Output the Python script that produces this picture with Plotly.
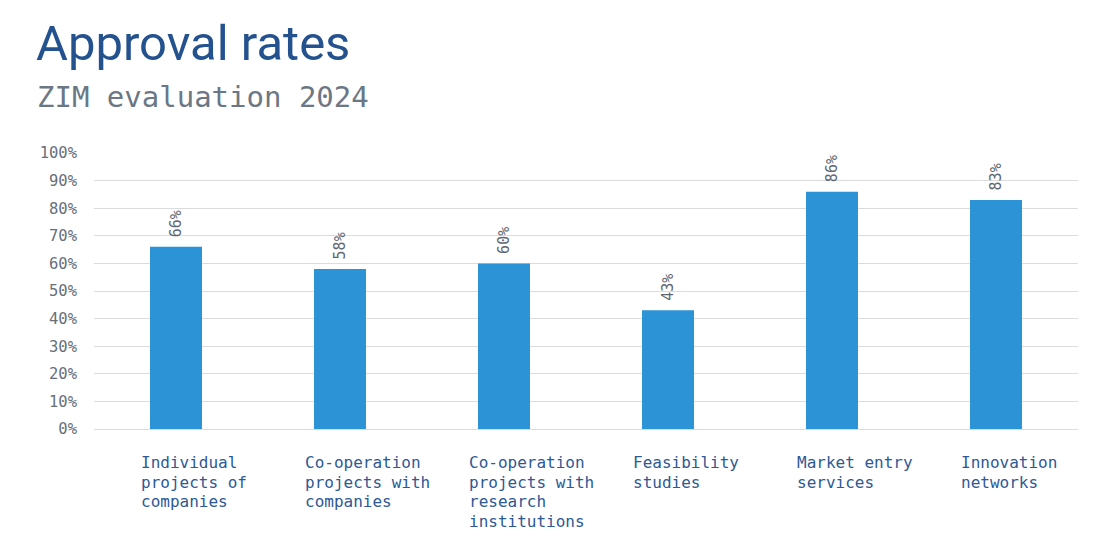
import plotly.graph_objects as go

categories = [
    "Individual<br>projects of<br>companies",
    "Co-operation<br>projects with<br>companies",
    "Co-operation<br>projects with<br>research<br>institutions",
    "Feasibility<br>studies",
    "Market entry<br>services",
    "Innovation<br>networks",
]
approval_rates = [66, 58, 60, 43, 86, 83]
y_ticks = list(range(0, 101, 10))
y_tick_labels = ["{}%".format(t) for t in y_ticks]

MONO = "DejaVu Sans Mono, Liberation Mono, monospace"
BAR_BLUE = "#2b93d6"
LABEL_BLUE = "#2d5995"
GREY = "#5f6873"
LINE_HEIGHT = 19.5


def main():
    fig = go.Figure()
    fig.add_trace(go.Bar(x=categories,
                         y=approval_rates,
                         marker=dict(color=BAR_BLUE, line=dict(width=0)),
                         hoverinfo="skip"))

    # value labels, rotated, sitting a bit above each bar
    for cat, val in zip(categories, approval_rates):
        fig.add_annotation(x=cat, y=val, xref="x", yref="y",
                           text="{}%".format(val), showarrow=False,
                           textangle=-90, xanchor="center", yanchor="bottom",
                           yshift=7,
                           font=dict(family=MONO, size=15, color=GREY))

    # category labels: left aligned blocks below each bar, one line each
    for cat in categories:
        for i, line in enumerate(cat.split("<br>")):
            fig.add_annotation(x=cat, y=0, xref="x", yref="y",
                               text=line, showarrow=False,
                               xanchor="left", yanchor="top", align="left",
                               xshift=-37, yshift=-22 - i * LINE_HEIGHT,
                               font=dict(family=MONO, size=16, color=LABEL_BLUE))

    fig.add_annotation(text="ZIM evaluation 2024",
                       xref="paper", yref="paper",
                       x=-59 / 984, y=1 + 37 / 276,
                       xanchor="left", yanchor="bottom", showarrow=False,
                       font=dict(family=MONO, size=29, color="#6b7785"))

    fig.update_xaxes(showticklabels=False, showgrid=False, zeroline=False,
                     showline=False, ticks="")
    fig.update_yaxes(range=[0, 100],
                     tickvals=y_ticks,
                     ticktext=y_tick_labels,
                     tickfont=dict(family=MONO, size=15.5, color="#66707b"),
                     ticklabelstandoff=16,
                     showgrid=True, gridcolor="#dadcde", gridwidth=1,
                     zeroline=True, zerolinecolor="#dadcde", zerolinewidth=1,
                     showline=False, ticks="")
    fig.update_layout(width=1116, height=560,
                      margin=dict(l=86, r=46, t=145, b=139),
                      paper_bgcolor="white", plot_bgcolor="white",
                      bargap=0.683, showlegend=False,
                      title=dict(text="Approval rates",
                                 xref="container", yref="container",
                                 x=28 / 1116, xanchor="left",
                                 y=1 - 18 / 560, yanchor="top",
                                 font=dict(family="Roboto", size=49, color="#24528f")))
    fig.write_html("out.html")


if __name__ == '__main__':
    main()
